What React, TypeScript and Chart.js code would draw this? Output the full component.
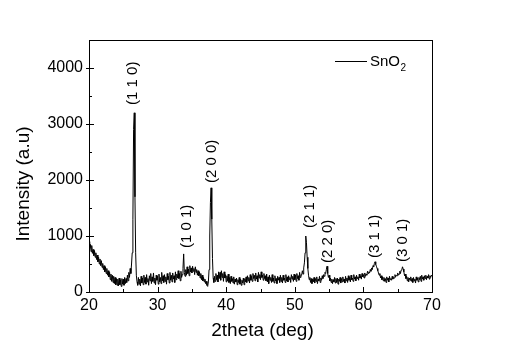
import React, { useEffect, useRef } from "react";
import { Chart, registerables } from "chart.js";

Chart.register(...registerables);

// 2theta grid: start + step * index
const twoThetaStart = 20;
const twoThetaStep = 0.1;

// Intensity (a.u.), one value per 0.1 deg (one row per degree)
const intensity: number[] = [
  900, 780, 850, 720, 830, 690, 760, 650, 740, 620, // 20
  700, 580, 660, 540, 620, 500, 590, 470, 560, 440, // 21
  510, 400, 470, 360, 450, 330, 420, 300, 380, 270, // 22
  350, 220, 320, 190, 300, 170, 280, 150, 260, 130, // 23
  240, 120, 230, 110, 250, 130, 220, 100, 240, 140, // 24
  230, 120, 260, 150, 240, 170, 300, 200, 350, 260, // 25
  420, 330, 500, 700, 1300, 2900, 3200, 1700, 700, 300, // 26
  180, 120, 260, 140, 230, 110, 280, 160, 250, 130, // 27
  300, 170, 260, 140, 310, 180, 240, 120, 290, 200, // 28
  330, 150, 270, 190, 340, 160, 250, 130, 300, 210, // 29
  280, 140, 320, 180, 260, 150, 350, 200, 290, 170, // 30
  310, 190, 270, 140, 330, 220, 280, 160, 350, 210, // 31
  300, 180, 340, 230, 290, 170, 360, 220, 320, 250, // 32
  380, 240, 330, 200, 370, 260, 310, 420, 680, 350, // 33
  280, 400, 300, 450, 330, 410, 290, 470, 360, 430, // 34
  340, 460, 370, 420, 310, 450, 350, 400, 300, 380, // 35
  290, 360, 250, 330, 220, 300, 200, 260, 180, 230, // 36
  150, 190, 120, 100, 180, 400, 1000, 1600, 1860, 1300, // 37
  600, 250, 170, 280, 190, 330, 220, 300, 180, 360, // 38
  240, 350, 210, 380, 260, 330, 190, 360, 250, 310, // 39
  180, 290, 200, 320, 170, 260, 150, 280, 190, 240, // 40
  160, 270, 140, 230, 180, 250, 130, 220, 170, 260, // 41
  140, 230, 120, 210, 160, 250, 130, 240, 180, 270, // 42
  170, 290, 200, 260, 160, 310, 210, 280, 190, 330, // 43
  240, 300, 200, 340, 230, 290, 180, 350, 250, 310, // 44
  220, 360, 260, 300, 210, 330, 240, 290, 200, 320, // 45
  180, 270, 150, 300, 210, 260, 170, 310, 190, 250, // 46
  160, 290, 200, 240, 150, 280, 210, 260, 170, 300, // 47
  190, 260, 160, 300, 210, 250, 170, 310, 200, 270, // 48
  180, 290, 220, 260, 170, 310, 230, 280, 190, 320, // 49
  220, 300, 190, 330, 240, 290, 210, 350, 260, 310, // 50
  300, 380, 320, 430, 520, 700, 1000, 880, 620, 420, // 51
  300, 220, 260, 170, 240, 150, 230, 180, 260, 160, // 52
  240, 190, 270, 150, 230, 200, 280, 170, 250, 210, // 53
  290, 240, 310, 280, 350, 330, 400, 460, 330, 260, // 54
  300, 200, 250, 170, 230, 150, 220, 180, 260, 160, // 55
  240, 170, 250, 140, 230, 190, 260, 160, 240, 180, // 56
  270, 190, 230, 160, 280, 200, 250, 170, 290, 210, // 57
  260, 180, 300, 220, 250, 190, 310, 230, 270, 200, // 58
  300, 240, 270, 210, 320, 250, 290, 230, 330, 270, // 59
  310, 250, 340, 280, 320, 300, 370, 330, 360, 340, // 60
  400, 370, 430, 400, 470, 450, 510, 540, 490, 460, // 61
  420, 380, 340, 300, 330, 250, 290, 220, 270, 200, // 62
  260, 190, 240, 170, 270, 210, 250, 180, 280, 220, // 63
  240, 210, 280, 230, 260, 250, 310, 270, 300, 290, // 64
  340, 300, 320, 370, 330, 390, 400, 450, 410, 360, // 65
  290, 320, 240, 280, 200, 260, 180, 250, 210, 270, // 66
  190, 240, 170, 260, 200, 230, 160, 270, 210, 250, // 67
  180, 260, 220, 280, 190, 300, 230, 270, 210, 290, // 68
  240, 300, 220, 280, 250, 310, 230, 290, 260, 300, // 69
  280, // 70
];

const xTickValues = [20, 30, 40, 50, 60, 70];
const xMinorTickValues = [25, 35, 45, 55, 65];
const yTickValues = [0, 1000, 2000, 3000, 4000];
const yMinorTickValues = [500, 1500, 2500, 3500, 4500];

const peakLabels = ["(1 1 0)", "(1 0 1)", "(2 0 0)", "(2 1 1)", "(2 2 0)", "(3 1 1)", "(3 0 1)"];
const peakLabelX = [26.4, 34.24, 37.89, 52.2, 54.84, 61.7, 65.77];
const peakLabelBase = [3340, 786, 1946, 1143, 518, 607, 536];

const seriesName = "SnO";
const seriesSub = "2";

const FONT = "'Liberation Sans', Arial, sans-serif";

const framePlugin = {
  id: "frame",
  afterDraw(chart: any) {
    const { ctx, chartArea } = chart;
    const xs = chart.scales.x;
    const ys = chart.scales.y;
    const L = Math.round(chartArea.left);
    const R = Math.round(chartArea.right);
    const T = Math.round(chartArea.top);
    const B = Math.round(chartArea.bottom);
    ctx.save();
    ctx.strokeStyle = "#000";
    ctx.lineWidth = 1;
    ctx.strokeRect(L + 0.5, T + 0.5, R - L, B - T);

    ctx.beginPath();
    xTickValues.forEach((v) => {
      const px = Math.round(xs.getPixelForValue(v)) + 0.5;
      ctx.moveTo(px, B);
      ctx.lineTo(px, B - 5);
    });
    xMinorTickValues.forEach((v) => {
      const px = Math.round(xs.getPixelForValue(v)) + 0.5;
      ctx.moveTo(px, B);
      ctx.lineTo(px, B - 3);
    });
    yTickValues.forEach((v) => {
      const py = Math.round(ys.getPixelForValue(v)) + 0.5;
      ctx.moveTo(L - 3, py);
      ctx.lineTo(L + 5, py);
    });
    yMinorTickValues.forEach((v) => {
      const py = Math.round(ys.getPixelForValue(v)) + 0.5;
      ctx.moveTo(L, py);
      ctx.lineTo(L + 3, py);
    });
    ctx.stroke();

    ctx.fillStyle = "#000";
    ctx.font = `16px ${FONT}`;
    ctx.textAlign = "center";
    ctx.textBaseline = "middle";
    xTickValues.forEach((v) => {
      ctx.fillText(String(v), xs.getPixelForValue(v), B + 14);
    });
    ctx.textAlign = "right";
    yTickValues.forEach((v) => {
      ctx.fillText(String(v), L - 6, ys.getPixelForValue(v));
    });

    ctx.font = `19px ${FONT}`;
    ctx.textAlign = "center";
    ctx.fillText("2theta (deg)", (L + R) / 2 + 2, 331);
    ctx.save();
    ctx.translate(24, 184);
    ctx.rotate(-Math.PI / 2);
    ctx.fillText("Intensity (a.u)", 0, 0);
    ctx.restore();

    ctx.font = `15px ${FONT}`;
    ctx.textAlign = "left";
    ctx.textBaseline = "middle";
    peakLabels.forEach((t, i) => {
      ctx.save();
      ctx.translate(xs.getPixelForValue(peakLabelX[i]), ys.getPixelForValue(peakLabelBase[i]));
      ctx.rotate(-Math.PI / 2);
      ctx.fillText(t, 0, 0);
      ctx.restore();
    });

    ctx.beginPath();
    ctx.moveTo(335, 61.5);
    ctx.lineTo(367, 61.5);
    ctx.stroke();
    ctx.font = `15px ${FONT}`;
    ctx.textAlign = "left";
    ctx.textBaseline = "middle";
    ctx.fillText(seriesName, 370, 62);
    const w = ctx.measureText(seriesName).width;
    ctx.font = `10px ${FONT}`;
    ctx.fillText(seriesSub, 370 + w + 0.5, 68);
    ctx.restore();
  },
};

export default function App() {
  const ref = useRef<HTMLCanvasElement>(null);
  useEffect(() => {
    if (!ref.current) return;
    const points = intensity.map((y, i) => ({ x: twoThetaStart + twoThetaStep * i, y }));
    const chart = new Chart(ref.current, {
      type: "line",
      data: {
        datasets: [
          {
            label: "SnO2",
            data: points,
            borderColor: "#000",
            borderWidth: 1,
            pointRadius: 0,
            tension: 0,
            fill: false,
          },
        ],
      },
      options: {
        animation: false,
        responsive: false,
        maintainAspectRatio: false,
        layout: { padding: { left: 89, top: 40, right: 73, bottom: 62 } },
        plugins: { legend: { display: false }, tooltip: { enabled: false } },
        scales: {
          x: { type: "linear", min: 20, max: 70, display: false },
          y: { type: "linear", min: 0, max: 4500, display: false },
        },
      },
      plugins: [framePlugin],
    });
    return () => chart.destroy();
  }, []);
  return (
    <div style={{ position: "fixed", left: 0, top: 0, width: 505, height: 354, background: "#fff" }}>
      <canvas ref={ref} width={505} height={354} />
    </div>
  );
}
